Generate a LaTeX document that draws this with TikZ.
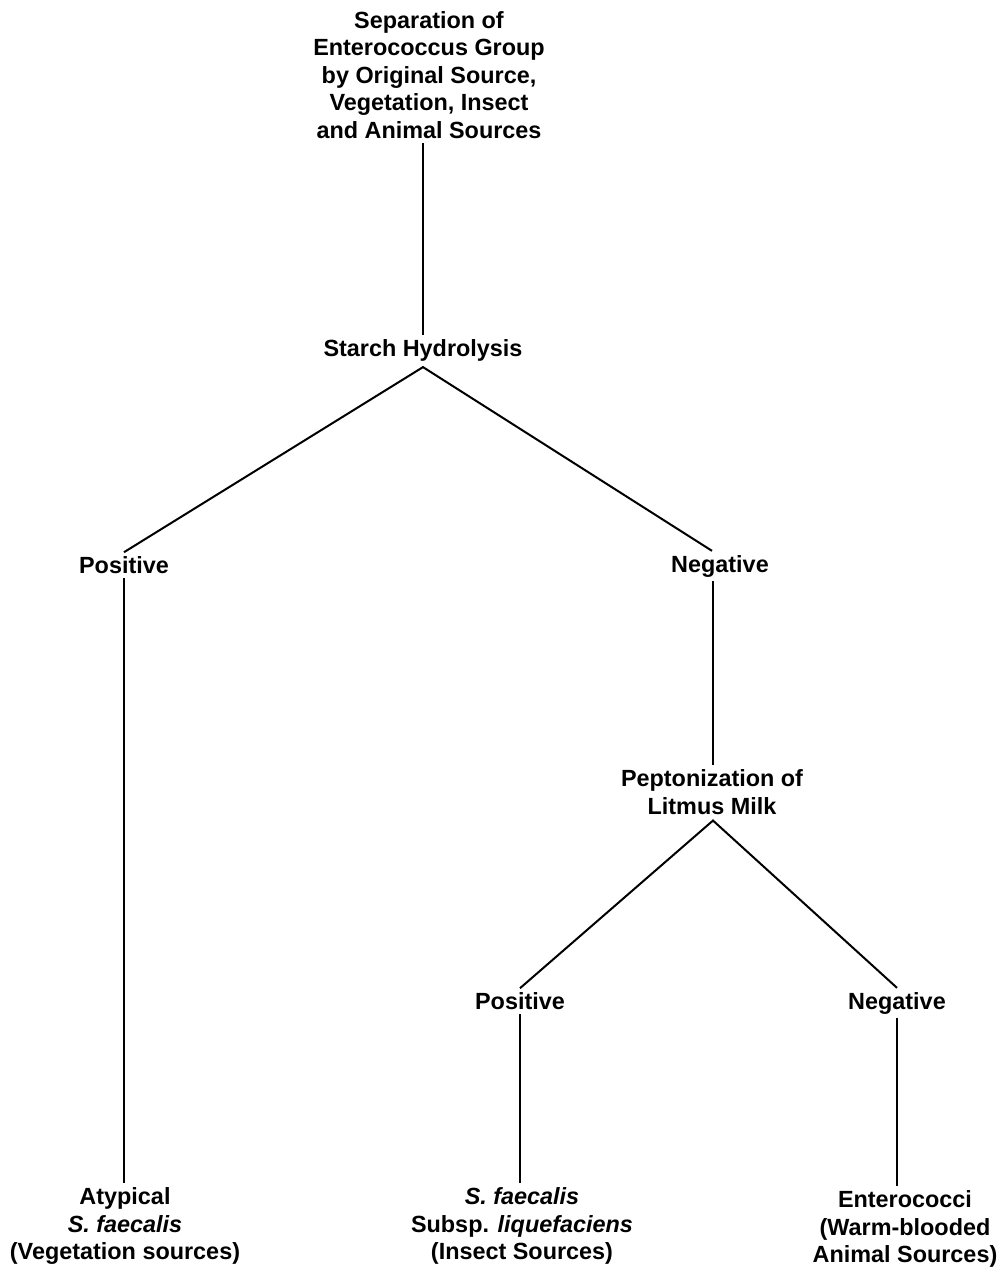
\documentclass[tikz,border=0pt]{standalone}
\usepackage{fontspec}
\setmainfont{Liberation Sans}
\begin{document}
\begin{tikzpicture}[x=1pt,y=-1pt,
  lbl/.style={align=center,inner sep=4pt,font=\fontsize{23.4}{27.5}\selectfont\bfseries},
  conn/.style={line width=2pt}]
\useasboundingbox[fill=white] (0,0) rectangle (1005,1275);
\node[lbl] (title) at (429,75) {Separation of\\Enterococcus Group\\by Original Source,\\Vegetation, Insect\\and Animal Sources};
\node[lbl] (starch) at (423,350) {Starch Hydrolysis};
\node[lbl] (pos1) at (124,565) {Positive};
\node[lbl] (neg1) at (720,566) {Negative};
\node[lbl] (pept) at (712,792) {Peptonization of\\Litmus Milk};
\node[lbl] (pos2) at (520,1001) {Positive};
\node[lbl] (neg2) at (897,1003) {Negative};
\node[lbl] (atyp) at (125,1226) {Atypical\\\textit{S. faecalis}\\(Vegetation sources)};
\node[lbl] (faec) at (522,1226) {\textit{S. faecalis}\\Subsp. \textit{liquefaciens}\\(Insect Sources)};
\node[lbl] (enter) at (905,1229) {Enterococci\\(Warm-blooded\\Animal Sources)};
\coordinate (sA) at ([yshift=-2pt]starch.south);
\draw[conn] (starch.north) -- (starch.north |- title.south);
\draw[conn] (pos1.north) -- (sA) -- ([xshift=-8pt]neg1.north);
\draw[conn] (pos1.south) -- (pos1.south |- atyp.north);
\draw[conn] ([xshift=-7pt]neg1.south) -- ([xshift=-7pt]neg1.south |- pept.north);
\draw[conn] (pos2.north) -- ([xshift=1pt,yshift=-2pt]pept.south) -- (neg2.north);
\draw[conn] (pos2.south) -- (pos2.south |- faec.north);
\draw[conn] (neg2.south) -- (neg2.south |- enter.north);
\end{tikzpicture}
\end{document}
